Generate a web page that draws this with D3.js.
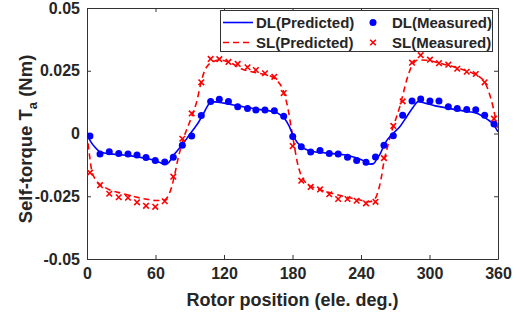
<!DOCTYPE html>
<html>
<head>
<meta charset="utf-8">
<script src="https://cdn.jsdelivr.net/npm/d3@7/dist/d3.min.js"></script>
<style>
  html, body { margin: 0; padding: 0; background: #fff; }
  svg text { font-family: "Liberation Sans", Arial, sans-serif; font-weight: bold; fill: #262626; }
</style>
</head>
<body>
<div class="svgGraphique"></div>
<script>
// Mesures (angle électrique en degrés)
const measAngles = [2.6, 11.4, 19.5, 27.8, 35.9, 43.8, 51.7, 59.8, 68.1, 75.6, 83.5, 91.7, 100.1, 108.3, 115.9,
  123.9, 132.0, 140.6, 147.9, 155.9, 164.1, 172.3, 180.2, 187.7, 195.9, 204.1, 212.2, 220.0, 228.2, 236.2,
  244.4, 252.7, 260.1, 268.3, 276.5, 284.7, 292.3, 300.4, 308.3, 316.5, 324.3, 332.6, 340.5, 348.3, 356.5];

const dlMeasured = [-0.0010, -0.0082, -0.0073, -0.0080, -0.0082, -0.0086, -0.0096, -0.0108, -0.0114, -0.0095,
  -0.0047, -0.0010, 0.0072, 0.0127, 0.0136, 0.0127, 0.0107, 0.0100, 0.0094, 0.0094, 0.0091, 0.0069,
  -0.0012, -0.0053, -0.0074, -0.0068, -0.0080, -0.0082, -0.0095, -0.0108, -0.0115, -0.0094, -0.0047,
  -0.0009, 0.0073, 0.0129, 0.0137, 0.0129, 0.0129, 0.0107, 0.0100, 0.0096, 0.0095, 0.0073, 0.0038];

const slMeasured = [-0.0156, -0.0206, -0.0240, -0.0254, -0.0256, -0.0274, -0.0288, -0.0292, -0.0270, -0.0172,
  -0.0021, 0.0080, 0.0204, 0.0297, 0.0296, 0.0285, 0.0277, 0.0264, 0.0253, 0.0240, 0.0226, 0.0161,
  -0.0050, -0.0188, -0.0213, -0.0223, -0.0242, -0.0261, -0.0261, -0.0268, -0.0278, -0.0272, -0.0098,
  0.0030, 0.0128, 0.0282, 0.0312, 0.0294, 0.0280, 0.0274, 0.0258, 0.0246, 0.0237, 0.0204, 0.0059];

// Courbes prédites
const dlPredAngles = [0, 3, 7, 11, 15, 20, 30, 40, 50, 58, 64, 68, 71, 74, 77, 81, 85, 89, 93, 97, 101, 105, 108,
  112, 120, 130, 140, 150, 160, 166, 170, 173, 177, 180, 184, 188, 192, 198, 205, 215, 225, 235, 243, 248,
  251, 254, 257, 261, 268, 274, 280, 286, 290, 297, 305, 315, 325, 335, 342, 347, 351, 355, 360];
const dlPredicted = [0.0000, -0.0030, -0.0055, -0.0072, -0.0078, -0.0081, -0.0085, -0.0090, -0.0098, -0.0106,
  -0.0116, -0.0122, -0.0118, -0.0100, -0.0080, -0.0058, -0.0035, -0.0010, 0.0015, 0.0040, 0.0070, 0.0105,
  0.0123, 0.0126, 0.0121, 0.0112, 0.0104, 0.0096, 0.0090, 0.0084, 0.0072, 0.0060, 0.0030, -0.0002, -0.0035,
  -0.0052, -0.0064, -0.0072, -0.0076, -0.0080, -0.0085, -0.0096, -0.0110, -0.0122, -0.0120, -0.0100,
  -0.0079, -0.0039, 0.0000, 0.0027, 0.0067, 0.0107, 0.0127, 0.0120, 0.0110, 0.0102, 0.0093, 0.0087,
  0.0080, 0.0067, 0.0055, 0.0041, 0.0007];

const slPredAngles = [0, 2, 4, 7, 10, 15, 20, 30, 40, 50, 60, 67, 71, 74, 77, 80, 83, 86, 89, 92, 96, 100, 103,
  106, 110, 116, 125, 135, 145, 155, 162, 167, 170, 173, 176, 179, 182, 184, 187, 192, 200, 210, 220, 228,
  238, 247, 252, 255, 258, 260, 264, 268, 271, 274, 277, 280, 284, 290, 297, 305, 313, 321, 330, 338, 344,
  348, 351, 354, 356, 358, 360];
const slPredicted = [0.0000, -0.0080, -0.0145, -0.0180, -0.0198, -0.0213, -0.0225, -0.0238, -0.0250, -0.0260,
  -0.0267, -0.0266, -0.0250, -0.0215, -0.0160, -0.0095, -0.0045, 0.0000, 0.0035, 0.0070, 0.0125, 0.0205,
  0.0250, 0.0272, 0.0285, 0.0293, 0.0283, 0.0258, 0.0245, 0.0236, 0.0226, 0.0208, 0.0190, 0.0155, 0.0100,
  0.0020, -0.0060, -0.0110, -0.0160, -0.0198, -0.0218, -0.0232, -0.0245, -0.0254, -0.0264, -0.0272,
  -0.0262, -0.0230, -0.0170, -0.0115, -0.0040, 0.0025, 0.0065, 0.0107, 0.0160, 0.0213, 0.0264, 0.0293,
  0.0292, 0.0285, 0.0275, 0.0266, 0.0253, 0.0240, 0.0225, 0.0208, 0.0178, 0.0135, 0.0100, 0.0055, 0.0010];

const xTicks = [0, 60, 120, 180, 240, 300, 360];
const yTicks = [-0.05, -0.025, 0, 0.025, 0.05];
const yTickLabels = ["-0.05", "-0.025", "0", "0.025", "0.05"];

const width = 520, height = 313;
const mLeft = 87, mRight = 498, mTop = 8, mBottom = 259;

const svg = d3.select('.svgGraphique').append('svg')
  .attr('width', width)
  .attr('height', height)
  .attr('viewBox', `0 0 ${width} ${height}`)
  .style('display', 'block');

const x = d3.scaleLinear().domain([0, 360]).range([mLeft, mRight]);
const y = d3.scaleLinear().domain([-0.05, 0.05]).range([mBottom, mTop]);

// clip pour les courbes
svg.append('clipPath').attr('id', 'clip')
  .append('rect').attr('x', mLeft).attr('y', mTop).attr('width', mRight - mLeft).attr('height', mBottom - mTop);

const axisColor = '#333333';

// axes (ticks vers l'intérieur, boîte fermée)
const xAxis = svg.append('g')
  .attr('transform', `translate(0,${mBottom})`)
  .call(d3.axisBottom(x).tickValues(xTicks).tickSizeInner(-4).tickSizeOuter(0).tickPadding(9));
const xAxisTop = svg.append('g')
  .attr('transform', `translate(0,${mTop})`)
  .call(d3.axisTop(x).tickValues(xTicks).tickSizeInner(-4).tickSizeOuter(0).tickFormat(''));
const yAxis = svg.append('g')
  .attr('transform', `translate(${mLeft},0)`)
  .call(d3.axisLeft(y).tickValues(yTicks).tickSizeInner(-4).tickSizeOuter(0).tickPadding(7)
    .tickFormat((d, i) => yTickLabels[i]));
const yAxisRight = svg.append('g')
  .attr('transform', `translate(${mRight},0)`)
  .call(d3.axisRight(y).tickValues(yTicks).tickSizeInner(-4).tickSizeOuter(0).tickFormat(''));

[xAxis, xAxisTop, yAxis, yAxisRight].forEach(g => {
  g.select('.domain').attr('stroke', axisColor).attr('stroke-width', 1);
  g.selectAll('.tick line').attr('stroke', axisColor);
  g.selectAll('.tick text').attr('font-size', 16).attr('font-family', null).attr('fill', '#262626');
});

// courbes prédites
const line = d3.line().x(d => x(d[0])).y(d => y(d[1])).curve(d3.curveMonotoneX);
const plot = svg.append('g').attr('clip-path', 'url(#clip)');

plot.append('path')
  .datum(slPredAngles.map((a, i) => [a, slPredicted[i]]))
  .attr('d', line)
  .attr('fill', 'none')
  .attr('stroke', '#ff0000')
  .attr('stroke-width', 1.6)
  .attr('stroke-dasharray', '6,4');

plot.append('path')
  .datum(dlPredAngles.map((a, i) => [a, dlPredicted[i]]))
  .attr('d', line)
  .attr('fill', 'none')
  .attr('stroke', '#0000ff')
  .attr('stroke-width', 1.6);

// mesures
plot.selectAll('circle.dl')
  .data(measAngles.map((a, i) => [a, dlMeasured[i]]))
  .join('circle')
  .attr('class', 'dl')
  .attr('cx', d => x(d[0]))
  .attr('cy', d => y(d[1]))
  .attr('r', 3.5)
  .attr('fill', '#0000ff');

const cross = d3.symbol().type(d3.symbolX).size(22);
plot.selectAll('path.sl')
  .data(measAngles.map((a, i) => [a, slMeasured[i]]))
  .join('path')
  .attr('class', 'sl')
  .attr('d', cross)
  .attr('transform', d => `translate(${x(d[0])},${y(d[1])})`)
  .attr('fill', 'none')
  .attr('stroke', '#ff0000')
  .attr('stroke-width', 1.6);

// titres des axes
svg.append('text')
  .attr('x', (mLeft + mRight) / 2)
  .attr('y', 306)
  .attr('text-anchor', 'middle')
  .attr('font-size', 18)
  .text('Rotor position (ele. deg.)');

const yTitle = svg.append('text')
  .attr('transform', `translate(32,139) rotate(-90)`)
  .attr('text-anchor', 'middle')
  .attr('font-size', 18.5);
yTitle.append('tspan').text('Self-torque T');
yTitle.append('tspan').attr('font-size', 13).attr('dy', 5).text('a');
yTitle.append('tspan').attr('dy', -5).text(' (Nm)');

// légende
const legend = svg.append('g');
legend.append('rect')
  .attr('x', 220.5).attr('y', 10.5).attr('width', 272).attr('height', 41)
  .attr('fill', '#fff').attr('stroke', axisColor).attr('stroke-width', 1);

const legendItems = [
  { label: 'DL(Predicted)', type: 'line', color: '#0000ff', dash: null, lx: 223, row: 0 },
  { label: 'DL(Measured)', type: 'dot', color: '#0000ff', lx: 373, row: 0 },
  { label: 'SL(Predicted)', type: 'line', color: '#ff0000', dash: '6,4', lx: 223, row: 1 },
  { label: 'SL(Measured)', type: 'x', color: '#ff0000', lx: 373, row: 1 }
];
legendItems.forEach(it => {
  const cy = 22.5 + it.row * 20;
  if (it.type === 'line') {
    legend.append('line')
      .attr('x1', it.lx).attr('x2', it.lx + 30).attr('y1', cy).attr('y2', cy)
      .attr('stroke', it.color).attr('stroke-width', 1.6)
      .attr('stroke-dasharray', it.dash);
    legend.append('text').attr('x', it.lx + 33).attr('y', cy + 5.5).attr('font-size', 15).text(it.label);
  } else {
    if (it.type === 'dot') {
      legend.append('circle').attr('cx', it.lx).attr('cy', cy).attr('r', 3.5).attr('fill', it.color);
    } else {
      legend.append('path').attr('d', cross).attr('transform', `translate(${it.lx},${cy})`)
        .attr('fill', 'none').attr('stroke', it.color).attr('stroke-width', 1.6);
    }
    legend.append('text').attr('x', it.lx + 19).attr('y', cy + 5.5).attr('font-size', 15).text(it.label);
  }
});
</script>
</body>
</html>
